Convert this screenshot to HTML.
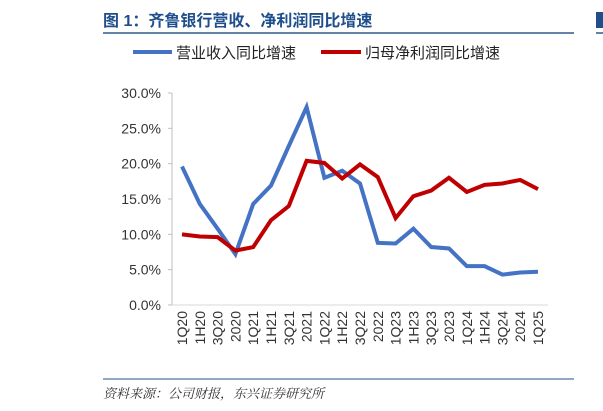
<!DOCTYPE html>
<html><head><meta charset="utf-8"><style>
body{margin:0;background:#fff;width:603px;height:411px;overflow:hidden;font-family:"Liberation Sans","Noto Sans CJK SC",sans-serif;}
svg{display:block}
</style></head><body>
<svg id="c" width="603" height="411">
<text x="103" y="26" font-size="16" font-weight="bold" fill="#1f4e8c" font-family="Liberation Sans, Noto Sans CJK SC, sans-serif">图 1：齐鲁银行营收、净利润同比增速</text>
<line x1="103" y1="33" x2="574" y2="33" stroke="#2e5b8c" stroke-width="1.5"/>
<rect x="596" y="12" width="7" height="16" fill="#1f4e8c"/>
<line x1="596" y1="33" x2="603" y2="33" stroke="#2e5b8c" stroke-width="1.5"/>
<g>
<line x1="133" y1="52" x2="172" y2="52" stroke="#4472c4" stroke-width="4"/>
<text x="176" y="58" font-size="15" fill="#222">营业收入同比增速</text>
<line x1="321" y1="52" x2="361" y2="52" stroke="#c00000" stroke-width="4"/>
<text x="365" y="58" font-size="15" fill="#222">归母净利润同比增速</text>
</g>
<g id="plot"></g>
<line x1="103" y1="379" x2="574" y2="379" stroke="#6b8cb5" stroke-width="1.5"/>
<text x="103" y="398" font-size="13" font-style="italic" fill="#333" font-family="Liberation Serif, Noto Serif CJK SC, serif">资料来源：公司财报，东兴证券研究所</text>
</svg>
<script>
const categories=["1Q20","1H20","3Q20","2020","1Q21","1H21","3Q21","2021","1Q22","1H22","3Q22","2022","1Q23","1H23","3Q23","2023","1Q24","1H24","3Q24","2024","1Q25"];
const revenueGrowth=[19.6,14.3,10.8,7.2,14.3,16.9,22.5,28.0,18.0,19.0,17.2,8.8,8.7,10.8,8.2,8.0,5.5,5.5,4.3,4.6,4.7];
const profitGrowth=[10.0,9.7,9.6,7.7,8.2,12.0,14.0,20.4,20.1,17.9,19.9,18.1,12.3,15.4,16.2,18.0,16.0,17.0,17.2,17.7,16.4];
const yTicks=[0,5,10,15,20,25,30];
const yTickLabels=["0.0%","5.0%","10.0%","15.0%","20.0%","25.0%","30.0%"];
const NS="http://www.w3.org/2000/svg";
const g=document.getElementById('plot');
const x0=182,x1=538,yBot=305,yTop=93,axX=172;
function xs(i){return x0+i*(x1-x0)/(categories.length-1);}
function ys(v){return yBot-(v-0)/(30-0)*(yBot-yTop);}
function mk(t,a){const e=document.createElementNS(NS,t);for(const k in a)e.setAttribute(k,a[k]);g.appendChild(e);return e;}
const ax=mk('line',{x1:axX,y1:yTop,x2:axX,y2:yBot,stroke:'#bfbfbf','stroke-width':1});


const bx=mk('line',{x1:axX,y1:yBot,x2:548,y2:yBot,stroke:'#d9d9d9','stroke-width':1});


yTicks.forEach((v,i)=>{
 const t=mk('line',{x1:axX-4,y1:ys(v),x2:axX,y2:ys(v),stroke:'#bfbfbf'});
 
 
 const l=mk('text',{x:161,y:ys(v)+5,'font-size':14,fill:'#333','text-anchor':'end'});
 l.textContent=yTickLabels[i];
 
 
});
categories.forEach((c,i)=>{
 const l=mk('text',{x:0,y:0,'font-size':14,fill:'#333','text-anchor':'end',transform:`translate(${xs(i)+5},${311}) rotate(-90)`});
 l.textContent=c;
 
 
});
function line(arr,color,name){
 const p=mk('polyline',{points:arr.map((v,i)=>xs(i)+','+ys(v)).join(' '),fill:'none',stroke:color,'stroke-width':4,'stroke-linejoin':'miter'});
 
 
}
line(revenueGrowth,'#4472c4','revenue-growth-line');
line(profitGrowth,'#c00000','profit-growth-line');
</script>
</body></html>
